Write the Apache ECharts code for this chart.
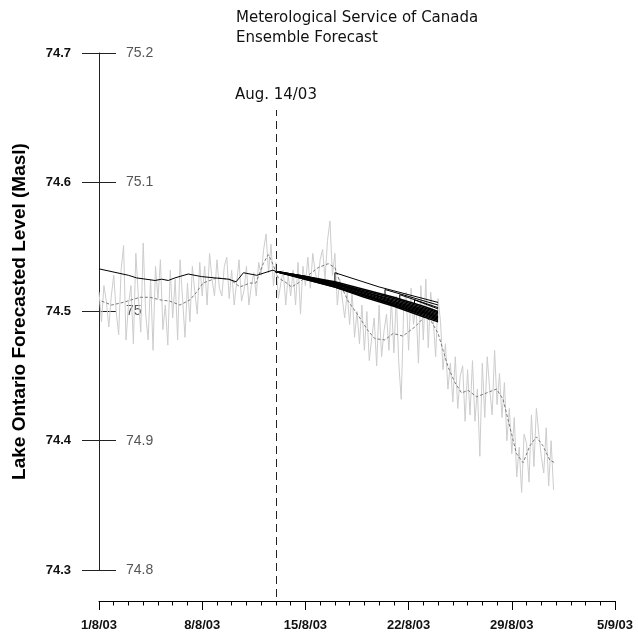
<!DOCTYPE html>
<html><head><meta charset="utf-8">
<script src="https://cdn.jsdelivr.net/npm/echarts@6/dist/echarts.min.js"></script>
<style>html,body{margin:0;padding:0;background:#fff}#c{width:638px;height:634px}</style>
</head><body><div id="c"></div>
<script>
// x axis: days after 1 Aug 2003
const tickLabels = ['1/8/03', '8/8/03', '15/8/03', '22/8/03', '29/8/03', '5/9/03'];
const titleLines = ['Meterological Service of Canada', 'Ensemble Forecast'];
const yAxisTitle = 'Lake Ontario Forecasted Level (Masl)';
const forecastDay = 12;
const forecastLabel = 'Aug. 14/03';

// observed level, 6 readings per day from 1 Aug
const obsPerDay = 6;
const obsValues = [
  74.515, 74.492, 74.520, 74.508, 74.488, 74.512,
  74.528, 74.500, 74.482, 74.532, 74.551, 74.478,
  74.505, 74.520, 74.475, 74.545, 74.512, 74.484,
  74.553, 74.498, 74.478, 74.525, 74.470, 74.535,
  74.510, 74.540, 74.486, 74.505, 74.474, 74.532,
  74.495, 74.525, 74.478, 74.540, 74.510, 74.480,
  74.522, 74.492, 74.535, 74.515, 74.498, 74.538,
  74.512, 74.535, 74.505, 74.545, 74.525, 74.512,
  74.540, 74.518, 74.512, 74.535, 74.542, 74.510,
  74.532, 74.505, 74.522, 74.540, 74.508, 74.516,
  74.535, 74.505, 74.520, 74.530, 74.512, 74.538,
  74.528, 74.548, 74.560, 74.530, 74.552, 74.520,
  74.538, 74.510, 74.522, 74.532, 74.505, 74.528,
  74.512, 74.532, 74.505, 74.538, 74.498, 74.535,
  74.520, 74.542, 74.518, 74.545, 74.530, 74.522,
  74.540, 74.548, 74.525, 74.555, 74.570, 74.528,
  74.545, 74.505, 74.525, 74.510, 74.495, 74.515,
  74.490, 74.515, 74.480, 74.500, 74.475, 74.505,
  74.470, 74.500, 74.462, 74.480, 74.495, 74.458,
  74.505, 74.465, 74.485, 74.498, 74.470, 74.510,
  74.468, 74.512, 74.460, 74.432, 74.502, 74.515,
  74.470, 74.518, 74.490, 74.505, 74.460, 74.520,
  74.478, 74.525, 74.472, 74.515, 74.495, 74.465,
  74.510, 74.492, 74.455, 74.475, 74.440, 74.460,
  74.430, 74.465, 74.425, 74.450, 74.458, 74.415,
  74.455, 74.420, 74.462, 74.415, 74.440, 74.388,
  74.460, 74.418, 74.465, 74.440, 74.420, 74.470,
  74.428, 74.452, 74.418, 74.445, 74.400, 74.425,
  74.390, 74.418, 74.372, 74.395, 74.360, 74.405,
  74.398, 74.368, 74.420, 74.380, 74.425, 74.405,
  74.388, 74.375, 74.410, 74.365, 74.400, 74.362
];

// smoothed observed level
const smoothDays = [0.18, 0.86, 1.63, 2.78, 3.46, 4.14, 4.81, 5.49, 6.17, 6.62, 7.05, 7.98, 8.88, 9.56, 10.24, 10.64,
  11.14, 11.48, 11.71, 12.16, 12.61, 13.06, 13.51, 14.19, 14.87, 15.55, 16.0, 16.45, 16.9, 17.58, 18.26, 18.71,
  19.39, 19.95, 20.61, 21.42, 22.1, 22.56, 23.0, 23.34, 23.68, 24.14, 24.59, 25.04, 25.61, 26.29, 26.96, 27.41,
  27.86, 28.32, 28.77, 29.22, 29.67, 30.12, 30.58, 30.92];
const smoothValues = [74.508, 74.505, 74.507, 74.511, 74.511, 74.509, 74.508, 74.505, 74.509, 74.515, 74.522, 74.526, 74.525, 74.519, 74.522, 74.522,
  74.537, 74.544, 74.539, 74.526, 74.523, 74.519, 74.522, 74.528, 74.534, 74.537, 74.534, 74.519, 74.508, 74.497, 74.485, 74.479,
  74.478, 74.483, 74.481, 74.488, 74.496, 74.492, 74.483, 74.470, 74.457, 74.445, 74.437, 74.439, 74.434, 74.437, 74.440, 74.432,
  74.411, 74.390, 74.383, 74.396, 74.403, 74.396, 74.385, 74.383];

// forecast-model hindcast before the forecast date
const histDays = [0, 2.0, 2.55, 3.8, 4.25, 4.7, 5.15, 6.05, 6.96, 7.86, 8.77, 9.3, 9.8, 10.7, 11.8, 12.0];
const histValues = [74.533, 74.528, 74.526, 74.524, 74.525, 74.524, 74.526, 74.529, 74.527, 74.526, 74.525, 74.523, 74.530, 74.528, 74.532, 74.531];

// ensemble members issued on the forecast date
const ensDays = [12, 14, 16, 18, 20, 22, 23];
const ensMembers = [
  [74.531, 74.527, 74.523, 74.517, 74.511, 74.504, 74.500],
  [74.531, 74.527, 74.522, 74.516, 74.510, 74.503, 74.499],
  [74.531, 74.527, 74.522, 74.515, 74.509, 74.502, 74.498],
  [74.531, 74.526, 74.521, 74.515, 74.508, 74.501, 74.497],
  [74.531, 74.526, 74.521, 74.514, 74.507, 74.500, 74.496],
  [74.531, 74.526, 74.520, 74.513, 74.506, 74.499, 74.495],
  [74.531, 74.526, 74.520, 74.513, 74.505, 74.498, 74.494],
  [74.531, 74.525, 74.519, 74.512, 74.505, 74.497, 74.493],
  [74.531, 74.525, 74.519, 74.511, 74.504, 74.496, 74.492]
];
// members that split off later
const lateDays = [[16, 16, 19, 23], [19.4, 19.4, 23], [20.4, 20.4, 23], [21.4, 21.4, 23]];
const lateValues = [[74.522, 74.530, 74.519, 74.507], [74.512, 74.517, 74.505], [74.509, 74.513, 74.503], [74.506, 74.509, 74.502]];

const pairs = (xs, ys) => xs.map((x, i) => [x, ys[i]]);
const obsData = obsValues.map((v, i) => [i / obsPerDay, v]);

const series = [];
series.push({ type: 'line', xAxisIndex: 0, yAxisIndex: 0, data: obsData, showSymbol: false, z: 1,
  lineStyle: { color: '#cdcdcd', width: 1 } });
series.push({ type: 'line', xAxisIndex: 0, yAxisIndex: 0, data: pairs(smoothDays, smoothValues), showSymbol: false, z: 2,
  lineStyle: { color: '#7a7a7a', width: 1, type: [3, 2] } });
series.push({ type: 'line', xAxisIndex: 0, yAxisIndex: 0, data: pairs(histDays, histValues), showSymbol: false, z: 3,
  lineStyle: { color: '#000', width: 1 } });
ensMembers.forEach(m => series.push({ type: 'line', xAxisIndex: 0, yAxisIndex: 0, data: pairs(ensDays, m), showSymbol: false, z: 4,
  lineStyle: { color: '#000', width: 1.5 } }));
lateDays.forEach((d, k) => series.push({ type: 'line', xAxisIndex: 0, yAxisIndex: 0, data: pairs(d, lateValues[k]), showSymbol: false, z: 4,
  lineStyle: { color: '#000', width: 1 } }));
series.push({ type: 'line', xAxisIndex: 1, yAxisIndex: 2, data: [], silent: true,
  markLine: { silent: true, symbol: 'none', animation: false,
    lineStyle: { color: '#222', width: 1, type: [8, 5] },
    label: { show: true, position: 'end', distance: 7, formatter: forecastLabel,
      fontFamily: 'DejaVu Sans', fontSize: 15, color: '#111' },
    data: [{ xAxis: forecastDay }] } });

const option = {
  animation: false,
  backgroundColor: '#fff',
  title: { text: titleLines.join('\n'), left: 231, top: 3,
    textStyle: { fontFamily: 'DejaVu Sans', fontSize: 15, fontWeight: 'normal', color: '#111', lineHeight: 20 } },
  grid: [
    { left: 99, right: 23, top: 53, height: 517, containLabel: false, outerBoundsMode: 'none' },
    { left: 99, right: 23, top: 110, bottom: 37, containLabel: false, outerBoundsMode: 'none' }
  ],
  xAxis: [
    { type: 'value', gridIndex: 0, min: 0, max: 35, interval: 7, offset: 31,
      axisLine: { show: true, lineStyle: { color: '#000', width: 1 } },
      axisTick: { show: true, length: 9, inside: false, lineStyle: { color: '#000' } },
      minorTick: { show: true, splitNumber: 7, length: 4.5, lineStyle: { color: '#000' } },
      splitLine: { show: false }, minorSplitLine: { show: false },
      axisLabel: { margin: 18, fontFamily: 'Arial', fontWeight: 'bold', fontSize: 13, color: '#111',
        formatter: v => tickLabels[Math.round(v / 7)] } },
    { type: 'value', gridIndex: 1, min: 0, max: 35, show: false }
  ],
  yAxis: [
    { type: 'value', gridIndex: 0, min: 74.3, max: 74.7, interval: 0.1, position: 'left',
      name: yAxisTitle, nameLocation: 'middle', nameGap: 70,
      nameTextStyle: { fontFamily: 'Arial', fontWeight: 'bold', fontSize: 19, color: '#000' },
      axisLine: { show: true, lineStyle: { color: '#222', width: 1 } },
      axisTick: { show: true, length: 17, inside: false, lineStyle: { color: '#222' } },
      splitLine: { show: false },
      axisLabel: { margin: 28, fontFamily: 'Arial', fontWeight: 'bold', fontSize: 13, color: '#111',
        formatter: v => v.toFixed(1) } },
    { type: 'value', gridIndex: 0, min: 74.8, max: 75.2, interval: 0.1, position: 'left', offset: 0,
      axisLine: { show: false },
      axisTick: { show: true, length: 17, inside: true, lineStyle: { color: '#222' } },
      splitLine: { show: false },
      axisLabel: { inside: true, margin: 27, fontFamily: 'Arial', fontSize: 14, color: '#555' } },
    { type: 'value', gridIndex: 1, min: 0, max: 1, show: false }
  ],
  series: series
};

const chart = echarts.init(document.getElementById('c'), null, { renderer: 'canvas' });
chart.setOption(option);
</script></body></html>
